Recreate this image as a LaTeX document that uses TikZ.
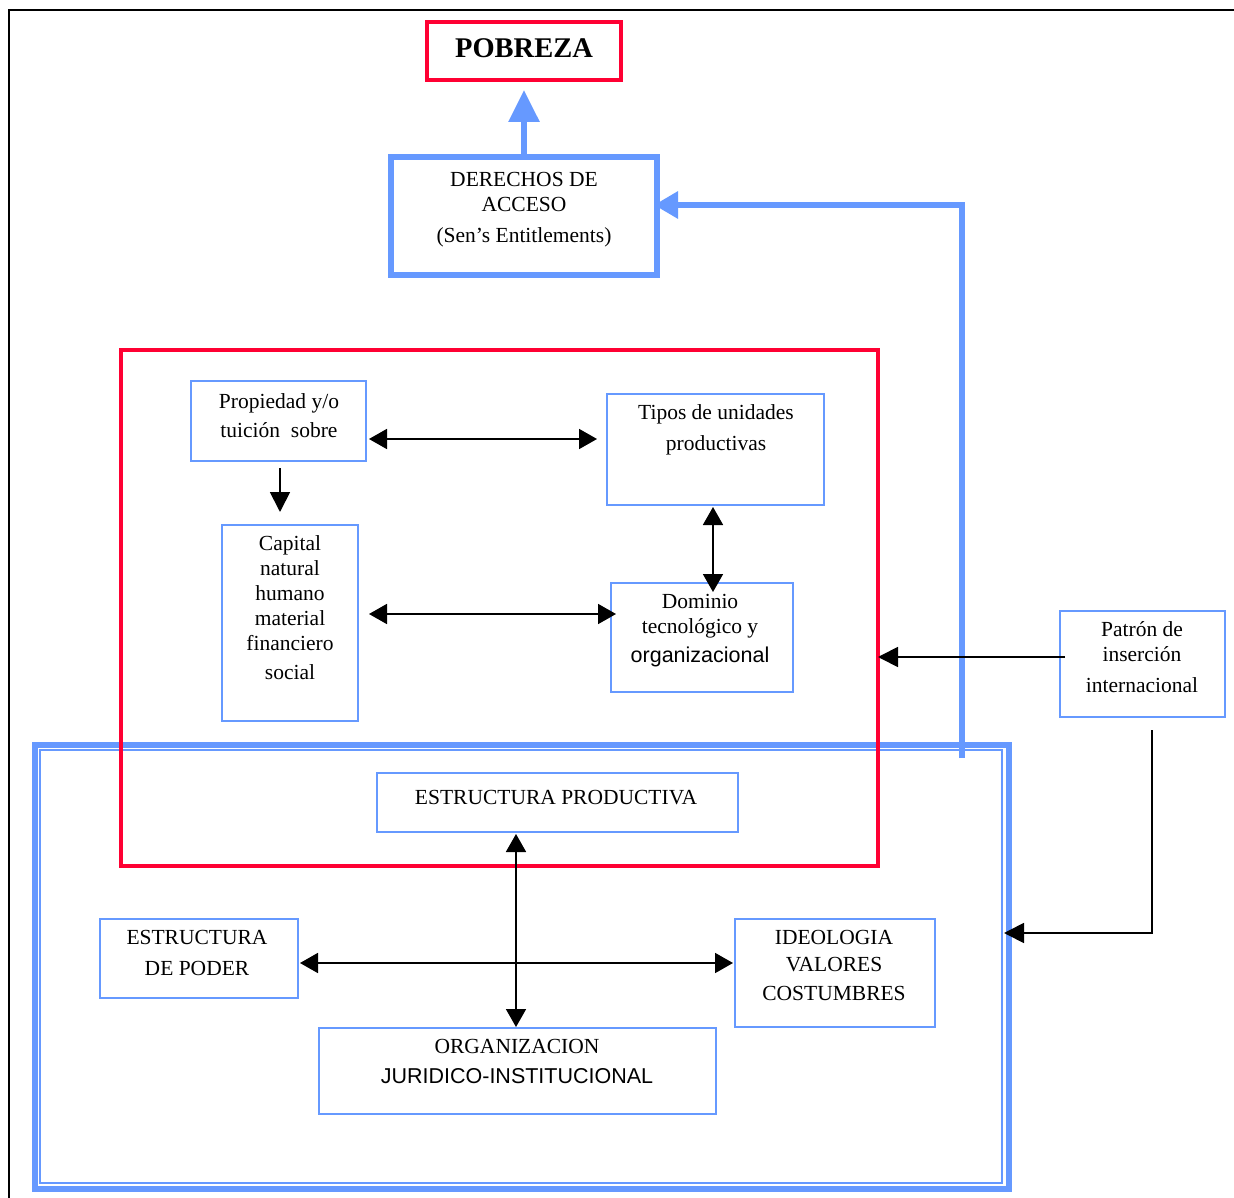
\documentclass[tikz,border=0pt]{standalone}
\usepackage{fontspec}
\setmainfont{Liberation Serif}
\newfontfamily\arialf{Liberation Sans}
\usetikzlibrary{arrows.meta}
\definecolor{bl}{HTML}{6699FF}
\definecolor{rd}{HTML}{FF0033}
\begin{document}
\begin{tikzpicture}[x=1pt,y=-1pt,
  thinbox/.style={draw=bl, line width=2pt, inner sep=0pt, outer sep=0pt},
  redbox/.style={draw=rd, line width=4pt, inner sep=0pt, outer sep=0pt},
  thickblue/.style={draw=bl, line width=5.5pt, inner sep=0pt, outer sep=0pt},
  txt/.style={font=\fontsize{21.5}{25}\selectfont, align=center, anchor=north, inner sep=0pt},
  sgl/.style={line width=1.8pt, -{Triangle[length=20pt,width=20pt]}},
  dbl/.style={line width=1.8pt, {Triangle[length=18pt,width=20pt]}-{Triangle[length=18pt,width=20pt]}},
  bigblue/.style={draw=bl, line width=6pt, line join=miter}
]
\useasboundingbox (0,0) rectangle (1234,1198);
\fill[white] (0,0) rectangle (1234,1198);
% outer frame
\draw[line width=2pt] (9,1198) -- (9,10) -- (1234,10);

% large blue structure box
\node[thickblue, line width=6pt, minimum width=974, minimum height=444] (estr) at (522,967) {};
\node[thinbox, line width=1.5pt, minimum width=962, minimum height=433] (estrin) at (521,966.5) {};

% blue connector start
\coordinate (bstart) at (962,758);

% red box
\node[redbox, minimum width=757, minimum height=516] (rbox) at (499.5,608) {};

% boxes
\node[redbox, minimum width=194, minimum height=58] (pob) at (524,51) {};
\node[thickblue, minimum width=266, minimum height=118] (der) at (524,216) {};
\node[thinbox, minimum width=175, minimum height=80] (prop) at (278.5,421) {};
\node[thinbox, minimum width=217, minimum height=111] (tipos) at (715.5,449.5) {};
\node[thinbox, minimum width=136, minimum height=196] (cap) at (290,623) {};
\node[thinbox, minimum width=182, minimum height=109] (dom) at (702,637.5) {};
\node[thinbox, minimum width=165, minimum height=106] (pat) at (1142.5,664) {};
\node[thinbox, minimum width=361, minimum height=59] (ep) at (557.5,802.5) {};
\node[thinbox, minimum width=198, minimum height=79] (poder) at (199,958.5) {};
\node[thinbox, minimum width=200, minimum height=108] (ideo) at (835,973) {};
\node[thinbox, minimum width=397, minimum height=86] (org) at (517.5,1071) {};

% blue connectors
\draw[bigblue, -{Triangle[length=32pt,width=30pt]}, shorten >=10pt] (der.north) -- (pob.south);
\draw[bigblue, -{Triangle[length=24pt,width=26pt]}, shorten >=-3pt] (bstart) |- (der.east |- 0,205);

% black connectors
\draw[dbl, shorten <=3pt, shorten >=10pt] (prop.east |- 0,439) -- (tipos.west |- 0,439);
\draw[sgl, shorten <=7pt, shorten >=13pt] (prop.south -| 280,0) -- (cap.north -| 280,0);
\draw[dbl, shorten <=2pt, shorten >=-9pt] (tipos.south -| 713,0) -- (dom.north -| 713,0);
\draw[dbl, shorten <=11pt, shorten >=-5pt] (cap.east |- 0,614) -- (dom.west |- 0,614);
\draw[sgl, shorten <=-5pt] (pat.west |- 0,657) -- (rbox.east |- 0,657);
\draw[sgl, shorten <=13pt, shorten >=-5pt] (pat.south -| 1152,0) |- (estr.east |- 0,933);
\draw[dbl, shorten <=2pt, shorten >=1pt] (ep.south -| 516,0) -- (org.north -| 516,0);
\draw[dbl, shorten <=2pt, shorten >=2pt] (poder.east |- 0,963) -- (ideo.west |- 0,963);

% texts
\node[anchor=center, inner sep=0pt, font=\bfseries\fontsize{28.5}{30}\selectfont] (tpob) at (524,48) {POBREZA};
\node[txt] (tder) at (524,172) {DERECHOS DE\\ACCESO\\[6pt](Sen’s Entitlements)};
\node[txt] (tprop) at (279,393.5) {Propiedad y/o\\[4pt]tuición\ \ sobre};
\node[txt] (ttipos) at (716,404.5) {Tipos de unidades\\[6pt]productivas};
\node[txt] (tcap) at (290,535.5) {Capital\\natural\\humano\\material\\financiero\\[4pt]social};
\node[txt] (tdom) at (700,594.5) {Dominio\\tecnológico y\\[4pt]{\arialf organizacional}};
\node[txt] (tpat) at (1142,621.5) {Patrón de\\inserción\\[6pt]internacional};
\node[txt] (tep) at (556,790) {ESTRUCTURA PRODUCTIVA};
\node[txt] (tpod) at (197,930) {ESTRUCTURA\\[6pt]DE PODER};
\node[txt] (tideo) at (834,930) {IDEOLOGIA\\[2pt]VALORES\\[4pt]COSTUMBRES};
\node[txt] (torg) at (517,1039) {ORGANIZACION\\[5pt]{\arialf JURIDICO-INSTITUCIONAL}};
\end{tikzpicture}
\end{document}
